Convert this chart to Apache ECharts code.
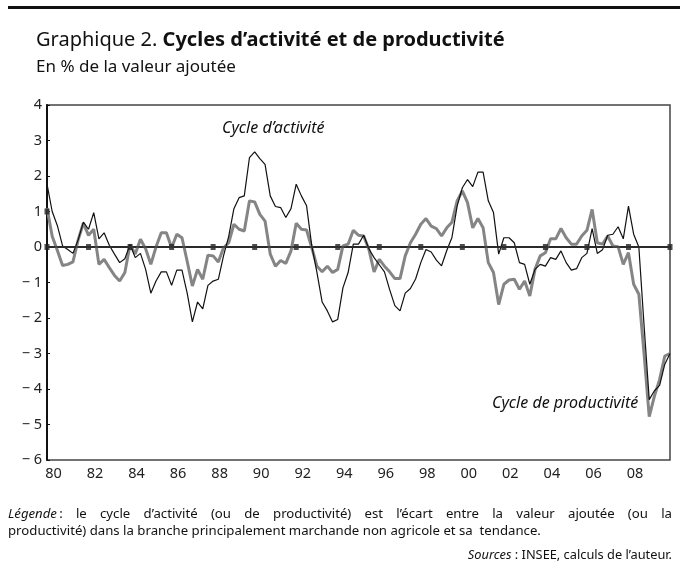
<!DOCTYPE html>
<html>
<head>
<meta charset="utf-8">
<script src="https://cdn.jsdelivr.net/npm/echarts@6/dist/echarts.min.js"></script>
<style>
  html, body { margin: 0; padding: 0; background: #fff; }
  #main { width: 680px; height: 581px; }
</style>
</head>
<body>
<div id="main"></div>
<script>
// trimestres 1980T1 -> 2010T1
var startYear = 1980;
var activite = [
  1.77, 1.0, 0.6, 0.03, -0.07, -0.18, 0.2, 0.7, 0.5, 0.97,
  0.23, 0.4, 0.05, -0.2, -0.44, -0.33, 0.07, -0.3, -0.18, -0.63,
  -1.3, -0.96, -0.7, -0.7, -1.08, -0.65, -0.65, -1.3, -2.11, -1.55,
  -1.74, -1.08, -0.96, -0.91, -0.25, 0.3, 1.08, 1.39, 1.44, 2.52,
  2.68, 2.49, 2.33, 1.44, 1.14, 1.11, 0.83, 1.08, 1.77, 1.44,
  1.16, 0.03, -0.72, -1.55, -1.8, -2.11, -2.04, -1.15, -0.72, 0.08,
  0.08, 0.33, -0.05, -0.3, -0.5, -0.7, -1.2, -1.65, -1.8, -1.3,
  -1.17, -0.9, -0.44, -0.07, -0.14, -0.37, -0.53, -0.1, 0.27, 1.15,
  1.67, 1.9, 1.7, 2.11, 2.11, 1.3, 0.97, -0.2, 0.26, 0.26,
  0.12, -0.44, -0.49, -1.05, -0.63, -0.49, -0.54, -0.3, -0.35, -0.11,
  -0.44, -0.65, -0.61, -0.3, -0.18, 0.52, -0.18, -0.08, 0.33, 0.36,
  0.57, 0.23, 1.15, 0.36, 0.0, -2.2, -4.3, -4.05, -3.9, -3.3,
  -3.0
];
var productivite = [
  1.1, 0.3, -0.1, -0.52, -0.49, -0.42, 0.2, 0.67, 0.33, 0.5,
  -0.49, -0.35, -0.58, -0.8, -0.96, -0.72, 0.07, -0.2, 0.22, -0.05,
  -0.49, 0.0, 0.4, 0.4, -0.02, 0.36, 0.26, -0.4, -1.1, -0.63,
  -0.91, -0.23, -0.25, -0.42, -0.02, 0.12, 0.64, 0.5, 0.45, 1.3,
  1.27, 0.92, 0.73, -0.2, -0.54, -0.38, -0.46, -0.11, 0.67, 0.5,
  0.48, -0.02, -0.54, -0.7, -0.54, -0.72, -0.63, 0.03, 0.08, 0.47,
  0.33, 0.31, -0.07, -0.7, -0.35, -0.54, -0.7, -0.89, -0.89, -0.25,
  0.12, 0.36, 0.64, 0.8, 0.59, 0.52, 0.31, 0.54, 0.7, 1.3,
  1.58, 1.25, 0.54, 0.8, 0.54, -0.44, -0.72, -1.62, -1.05, -0.93,
  -0.91, -1.19, -0.96, -1.38, -0.63, -0.25, -0.16, 0.23, 0.23, 0.52,
  0.26, 0.08, 0.08, 0.31, 0.47, 1.06, 0.12, 0.08, 0.31, 0.03,
  0.01, -0.49, -0.16, -1.05, -1.33, -3.0, -4.78, -4.2, -3.73, -3.07,
  -3.0
];
// petits carrés sur la ligne zéro (tous les deux ans) + celui à 1 en 1980
var markerYears = [1980, 1982, 1984, 1986, 1988, 1990, 1992, 1994, 1996, 1998, 2000, 2002, 2004, 2006, 2008, 2010];
var extraMarkers = [[1980, 1]];
var yearLabels = ['80', '82', '84', '86', '88', '90', '92', '94', '96', '98', '00', '02', '04', '06', '08'];

var font = '"Noto Sans", sans-serif';
var noteSize = 13.2;

function withTime(values) {
  var out = [];
  for (var i = 0; i < values.length; i++) {
    out.push([startYear + i / 4, values[i]]);
  }
  return out;
}

var markers = markerYears.map(function (y) { return [y, 0]; }).concat(extraMarkers);

// ligne justifiée, mot par mot
var ctx = document.createElement('canvas').getContext('2d');
function textWidth(str, italic, size) {
  ctx.font = (italic ? 'italic ' : '') + size + 'px "Noto Sans"';
  return ctx.measureText(str).width;
}
function justified(words, x0, x1, y, size) {
  var widths = words.map(function (w) {
    return w.it ? textWidth(w.it, true, size) + textWidth(w.t, false, size) : textWidth(w.t, false, size);
  });
  var total = widths.reduce(function (a, b) { return a + b; }, 0);
  var gap = (x1 - x0 - total) / (words.length - 1);
  var x = x0, els = [];
  words.forEach(function (w, i) {
    els.push({
      type: 'text', left: x, top: y,
      style: {
        text: w.it ? '{i|' + w.it + '}' + w.t : w.t,
        font: size + 'px ' + font, fill: '#111',
        rich: { i: { fontStyle: 'italic', fontSize: size, fontFamily: font } }
      }
    });
    x += widths[i] + gap;
  });
  return els;
}

var line1 = [{ it: 'Légende', t: '\u2009:' }].concat(
  'le cycle d’activité (ou de productivité) est l’écart entre la valeur ajoutée (ou la'
    .split(' ').map(function (t) { return { t: t }; }));

var myChart = echarts.init(document.getElementById('main'));

var option = {
  backgroundColor: '#fff',
  animation: false,
  grid: {
    left: 47, right: 10, top: 105, bottom: 121,
    show: true, borderColor: '#444', borderWidth: 1.5
  },
  xAxis: {
    type: 'value',
    min: 1980, max: 2010, interval: 2,
    axisLine: { show: true, lineStyle: { color: '#111', width: 2 } },
    axisTick: { show: false },
    splitLine: { show: false },
    axisLabel: {
      color: '#222', fontSize: 14.5, fontFamily: font, margin: 6,
      padding: [0, 0, 0, 13],
      formatter: function (v) {
        var idx = (v - 1980) / 2;
        return yearLabels[idx] !== undefined ? yearLabels[idx] : '';
      }
    }
  },
  yAxis: {
    type: 'value',
    min: -6, max: 4, interval: 1,
    axisLine: { show: true, lineStyle: { color: '#111', width: 2 } },
    axisTick: { show: true, inside: true, length: 3, lineStyle: { color: '#111' } },
    splitLine: { show: false },
    axisLabel: {
      color: '#222', fontSize: 14.5, fontFamily: font, margin: 5,
      formatter: function (v) { return v < 0 ? '\u2212 ' + Math.abs(v) : String(v); }
    }
  },
  series: [
    {
      name: 'Cycle de productivité',
      type: 'line',
      data: withTime(productivite),
      symbol: 'none',
      lineStyle: { color: '#858585', width: 3 },
      z: 2,
      markLine: {
        silent: true, symbol: 'none', label: { show: false },
        lineStyle: { color: '#333', width: 1.5, type: 'solid' },
        data: [{ yAxis: 0 }]
      }
    },
    {
      name: 'Cycle d’activité',
      type: 'line',
      data: withTime(activite),
      symbol: 'none',
      lineStyle: { color: '#111', width: 1.2 },
      z: 3
    },
    {
      type: 'scatter',
      data: markers,
      symbol: 'rect',
      symbolSize: [5, 6],
      itemStyle: { color: '#222' },
      z: 4
    }
  ],
  graphic: [
    { type: 'rect', shape: { x: 8, y: 6, width: 672, height: 3 }, style: { fill: '#111' } },
    {
      type: 'text', left: 36, top: 30,
      style: {
        text: 'Graphique 2. {b|Cycles d’activité et de productivité}',
        font: '20px ' + font, fill: '#111',
        rich: { b: { fontWeight: 'bold', fontSize: 20, fontFamily: font } }
      }
    },
    {
      type: 'text', left: 36, top: 59,
      style: { text: 'En % de la valeur ajoutée', font: '17px ' + font, fill: '#111' }
    },
    {
      type: 'text', left: 222, top: 120,
      style: { text: 'Cycle d’activité', font: 'italic 16px ' + font, fill: '#111' }
    },
    {
      type: 'text', left: 492, top: 395,
      style: { text: 'Cycle de productivité', font: 'italic 16px ' + font, fill: '#111' }
    },
    {
      type: 'text', left: 8, top: 525,
      style: {
        text: 'productivité) dans la branche principalement marchande non agricole et sa  tendance.',
        font: noteSize + 'px ' + font, fill: '#111'
      }
    },
    {
      type: 'text', right: 8, top: 549,
      style: {
        text: '{i|Sources} : INSEE, calculs de l’auteur.',
        font: '12.8px ' + font, fill: '#111',
        rich: { i: { fontStyle: 'italic', fontSize: 12.8, fontFamily: font } }
      }
    }
  ].concat(justified(line1, 8, 672, 508, noteSize))
};

myChart.setOption(option);
</script>
</body>
</html>
